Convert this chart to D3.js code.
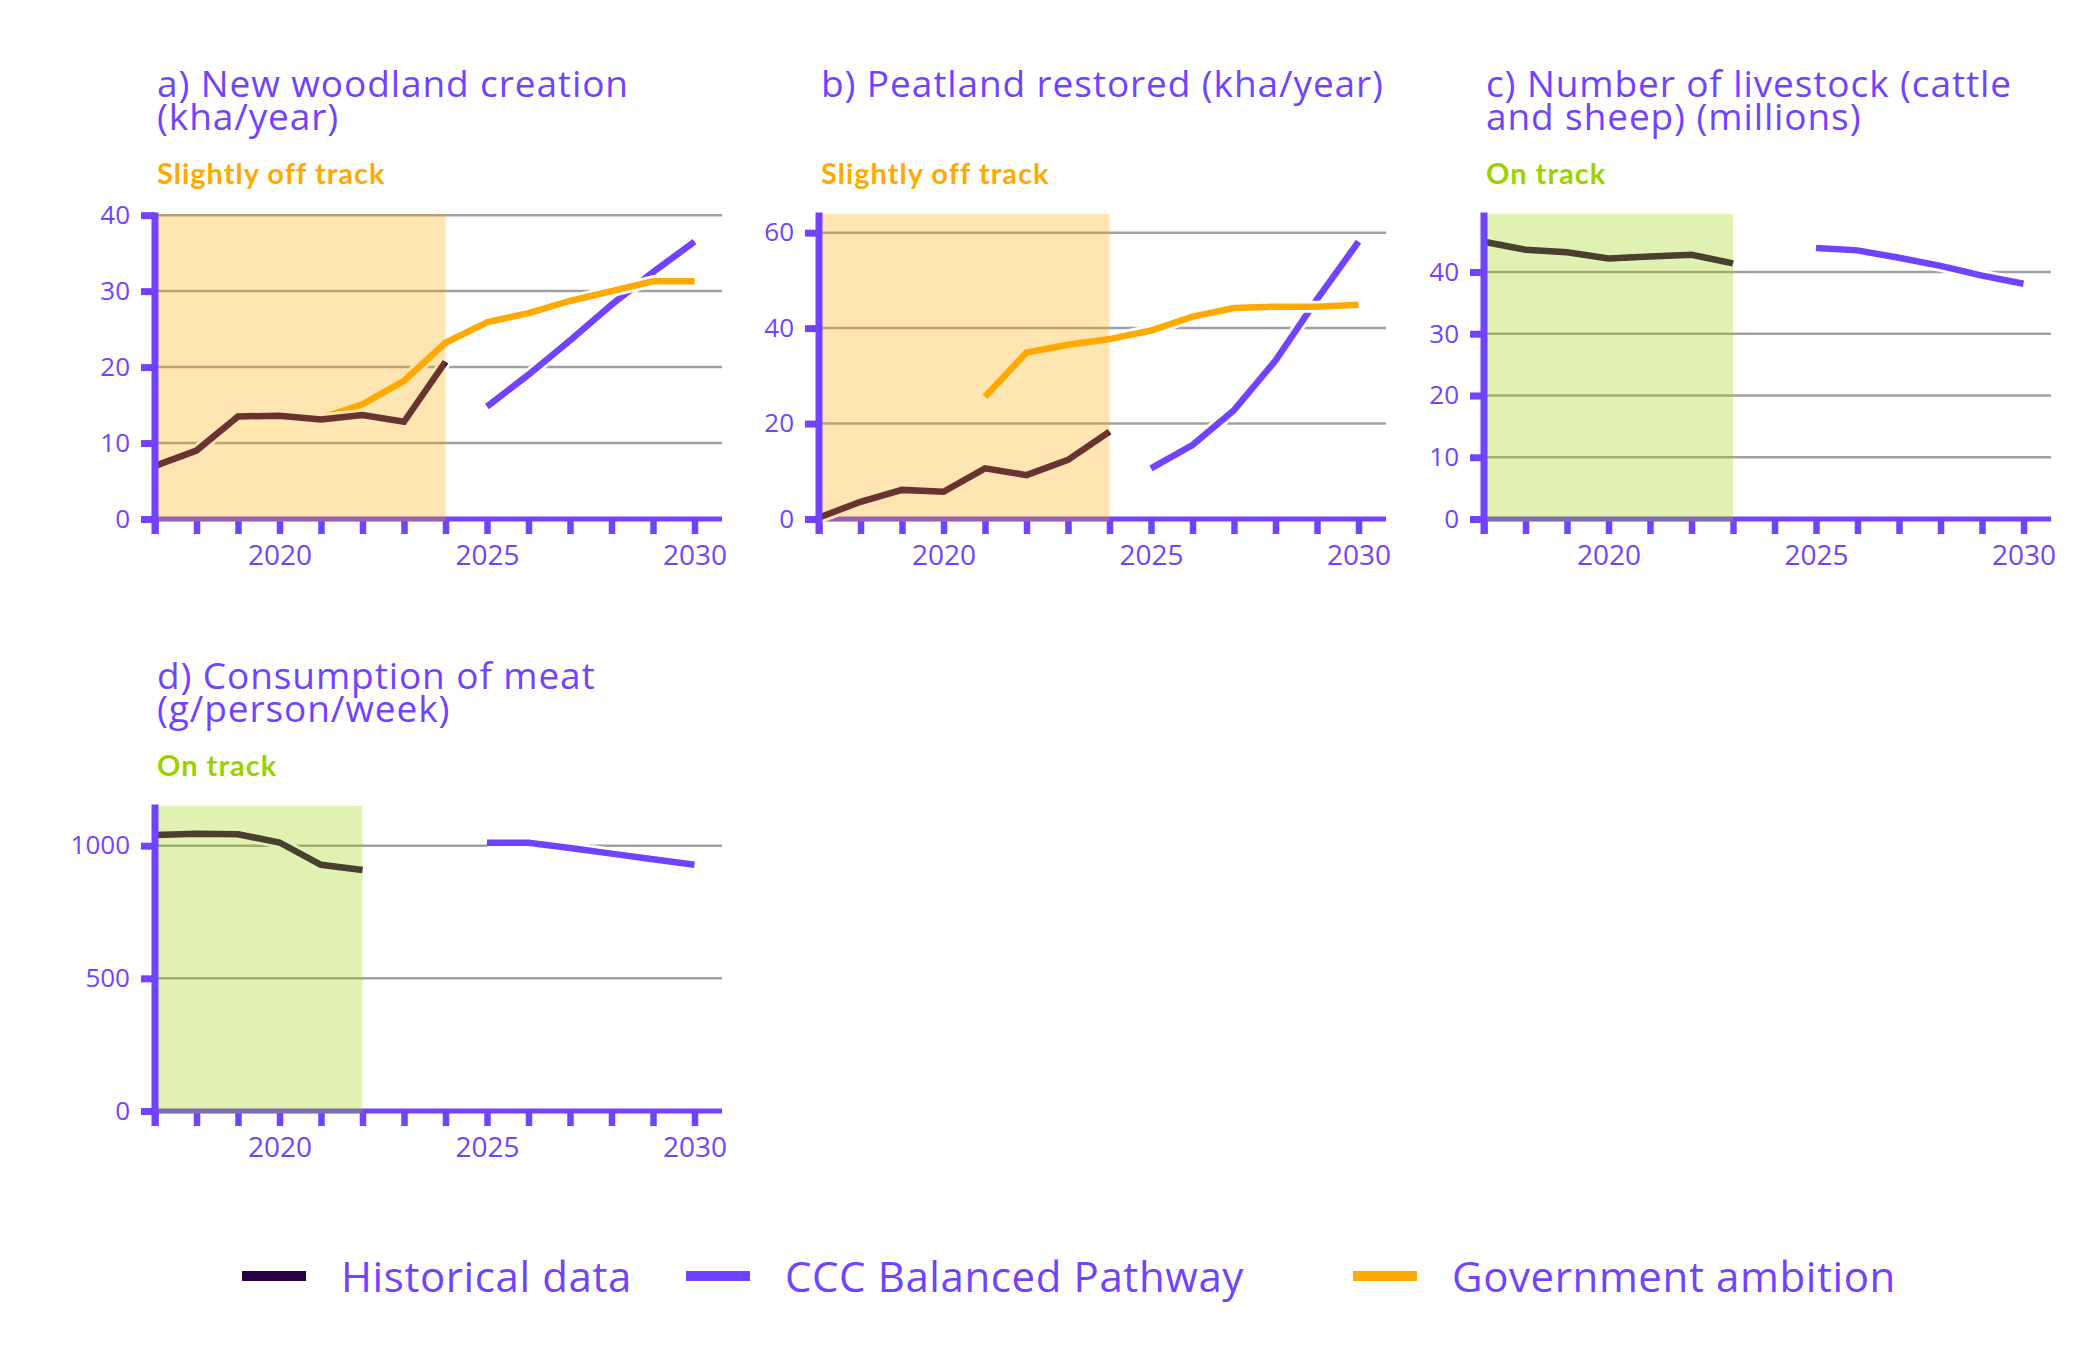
<!DOCTYPE html>
<html>
<head>
<meta charset="utf-8">
<script src="https://cdn.jsdelivr.net/npm/d3@7"></script>
<style>
  body { margin: 0; background: #fff; }
  svg text { font-family: "Open Sans", sans-serif; }
</style>
</head>
<body>
<div id="chart"></div>
<script>
/**
 * DATA
 * */
// a) new woodland creation (kha/year)
const woodHistYears = [2017, 2018, 2019, 2020, 2021, 2022, 2023, 2024];
const woodHist = [7.0, 9.0, 13.5, 13.6, 13.1, 13.7, 12.8, 20.7];
const woodGovYears = [2021, 2022, 2023, 2024, 2025, 2026, 2027, 2028, 2029, 2030];
const woodGov = [13.3, 15.1, 18.2, 23.2, 25.9, 27.1, 28.7, 30.0, 31.3, 31.3];
const woodCccYears = [2025, 2026, 2027, 2028, 2029, 2030];
const woodCcc = [14.8, 19.0, 23.5, 28.2, 32.5, 36.5];

// b) peatland restored (kha/year)
const peatHistYears = [2017, 2018, 2019, 2020, 2021, 2022, 2023, 2024];
const peatHist = [0.3, 3.6, 6.1, 5.7, 10.6, 9.2, 12.4, 18.3];
const peatGovYears = [2021, 2022, 2023, 2024, 2025, 2026, 2027, 2028, 2029, 2030];
const peatGov = [25.6, 34.9, 36.5, 37.7, 39.5, 42.4, 44.2, 44.5, 44.5, 44.9];
const peatCccYears = [2025, 2026, 2027, 2028, 2029, 2030];
const peatCcc = [10.6, 15.5, 22.8, 33.2, 46.0, 58.1];

// c) livestock (millions)
const stockHistYears = [2017, 2018, 2019, 2020, 2021, 2022, 2023];
const stockHist = [44.9, 43.6, 43.2, 42.2, 42.5, 42.8, 41.4];
const stockCccYears = [2025, 2026, 2027, 2028, 2029, 2030];
const stockCcc = [43.9, 43.5, 42.3, 41.0, 39.4, 38.1];

// d) meat consumption (g/person/week)
const meatHistYears = [2017, 2018, 2019, 2020, 2021, 2022];
const meatHist = [1040, 1045, 1043, 1012, 928, 908];
const meatCccYears = [2025, 2026, 2027, 2028, 2029, 2030];
const meatCcc = [1011, 1011, 991, 970, 949, 928];

const panelTitles = [
  ["a) New woodland creation", "(kha/year)"],
  ["b) Peatland restored (kha/year)"],
  ["c) Number of livestock (cattle", "and sheep) (millions)"],
  ["d) Consumption of meat", "(g/person/week)"]
];
const panelStatus = ["Slightly off track", "Slightly off track", "On track", "On track"];
const historyEnd = [2024, 2024, 2023, 2022];
const yTickValues = [[0, 10, 20, 30, 40], [0, 20, 40, 60], [0, 10, 20, 30, 40], [0, 500, 1000]];
const xTickYears = d3.range(2017, 2031);
const xLabelYears = [2020, 2025, 2030];
const legendLabels = ["Historical data", "CCC Balanced Pathway", "Government ambition"];

/**
 * STYLE + LAYOUT
 * */
const width = 2077, height = 1348;
const purple = "#7143ff", orange = "#ffaa00", green = "#9bd100", dark = "#270046", grid = "#a0a0a0";
const statusColor = { "Slightly off track": orange, "On track": green };
const plotW = 567, plotH = 305;
const origins = [[155, 214], [819, 214], [1484, 214], [155, 806]];
const legendX = [242, 686, 1353];

const zip = (xs, ys) => xs.map((x, i) => [x, ys[i]]);

const panels = [
  { hist: zip(woodHistYears, woodHist), ccc: zip(woodCccYears, woodCcc), gov: zip(woodGovYears, woodGov) },
  { hist: zip(peatHistYears, peatHist), ccc: zip(peatCccYears, peatCcc), gov: zip(peatGovYears, peatGov) },
  { hist: zip(stockHistYears, stockHist), ccc: zip(stockCccYears, stockCcc), gov: null },
  { hist: zip(meatHistYears, meatHist), ccc: zip(meatCccYears, meatCcc), gov: null }
];

const svg = d3.select("#chart")
  .append("svg")
  .attr("width", width)
  .attr("height", height)
  .style("background", "#fff");

const x = d3.scaleLinear().domain([2017, 2030]).range([0, 539.5]);

panels.forEach((p, i) => {
  const [ox, oy] = origins[i];
  const g = svg.append("g").attr("transform", `translate(${ox},${oy})`);

  const all = [...p.hist, ...p.ccc, ...(p.gov || [])];
  const y = d3.scaleLinear()
    .domain([0, d3.max(all, d => d[1]) * 1.1])
    .range([plotH, 0]);

  // title (one text, lines as tspans)
  g.append("text")
    .attr("y", -117.5)
    .attr("fill", purple)
    .style("font-size", "37px")
    .style("letter-spacing", "0.9px")
    .selectAll("tspan")
    .data(panelTitles[i])
    .join("tspan")
    .attr("x", 2)
    .attr("dy", (d, j) => j === 0 ? 0 : 33.5)
    .text(d => d);

  g.append("text")
    .attr("x", 2)
    .attr("y", -30.5)
    .attr("fill", statusColor[panelStatus[i]])
    .style("font-family", "Lato, sans-serif")
    .style("font-weight", 700)
    .style("font-size", "29px")
    .style("letter-spacing", "1px")
    .text(panelStatus[i]);

  // gridlines
  g.selectAll(".grid")
    .data(yTickValues[i].filter(v => v > 0))
    .join("line")
    .attr("x1", 0).attr("x2", plotW)
    .attr("y1", d => y(d)).attr("y2", d => y(d))
    .attr("stroke", grid)
    .attr("stroke-width", 2.5);

  // x axis
  const xAxis = g.append("g")
    .attr("transform", `translate(0,${plotH})`)
    .call(d3.axisBottom(x)
      .tickValues(xTickYears)
      .tickSize(15)
      .tickPadding(11)
      .tickFormat(d => xLabelYears.includes(d) ? d : ""));
  xAxis.select(".domain").remove();
  xAxis.selectAll(".tick line").attr("stroke", purple).attr("stroke-width", 6.5);
  xAxis.selectAll(".tick text")
    .attr("fill", purple)
    .style("font-size", "28px")
    .style("font-family", "'Open Sans', sans-serif");
  g.append("line")
    .attr("x1", 0).attr("x2", plotW)
    .attr("y1", plotH).attr("y2", plotH)
    .attr("stroke", purple)
    .attr("stroke-width", 5);

  // series, each with a white casing
  const line = d3.line().x(d => x(d[0])).y(d => y(d[1]));
  const series = [
    { data: p.ccc, color: purple },
    { data: p.gov, color: orange },
    { data: p.hist, color: dark }
  ].filter(s => s.data);

  series.forEach(s => {
    g.append("path")
      .datum(s.data)
      .attr("d", line)
      .attr("fill", "none")
      .attr("stroke", "#fff")
      .attr("stroke-width", 12);
    g.append("path")
      .datum(s.data)
      .attr("d", line)
      .attr("fill", "none")
      .attr("stroke", s.color)
      .attr("stroke-width", 6.5);
  });

  // history shading
  g.append("rect")
    .attr("x", 0)
    .attr("y", 0)
    .attr("width", x(historyEnd[i]))
    .attr("height", plotH + 2.5)
    .attr("fill", statusColor[panelStatus[i]])
    .attr("fill-opacity", 0.3);

  // y axis
  const yAxis = g.append("g")
    .call(d3.axisLeft(y)
      .tickValues(yTickValues[i])
      .tickSize(14)
      .tickPadding(11)
      .tickFormat(d3.format("d")));
  yAxis.select(".domain").remove();
  yAxis.selectAll(".tick line").attr("stroke", purple).attr("stroke-width", 7);
  yAxis.selectAll(".tick text")
    .attr("fill", purple)
    .style("font-size", "26px")
    .style("font-family", "'Open Sans', sans-serif");
  g.append("line")
    .attr("x1", 0).attr("x2", 0)
    .attr("y1", -1.5).attr("y2", plotH + 15)
    .attr("stroke", purple)
    .attr("stroke-width", 7);
});

// legend
const legendColors = [dark, purple, orange];
const legend = svg.append("g").attr("transform", "translate(0,1276)");
legendLabels.forEach((label, i) => {
  legend.append("rect")
    .attr("x", legendX[i])
    .attr("y", -5)
    .attr("width", 64)
    .attr("height", 10)
    .attr("fill", legendColors[i]);
  legend.append("text")
    .attr("x", legendX[i] + 99)
    .attr("y", 16)
    .attr("fill", purple)
    .style("font-size", "42px")
    .style("letter-spacing", "0.6px")
    .text(label);
});
</script>
</body>
</html>
